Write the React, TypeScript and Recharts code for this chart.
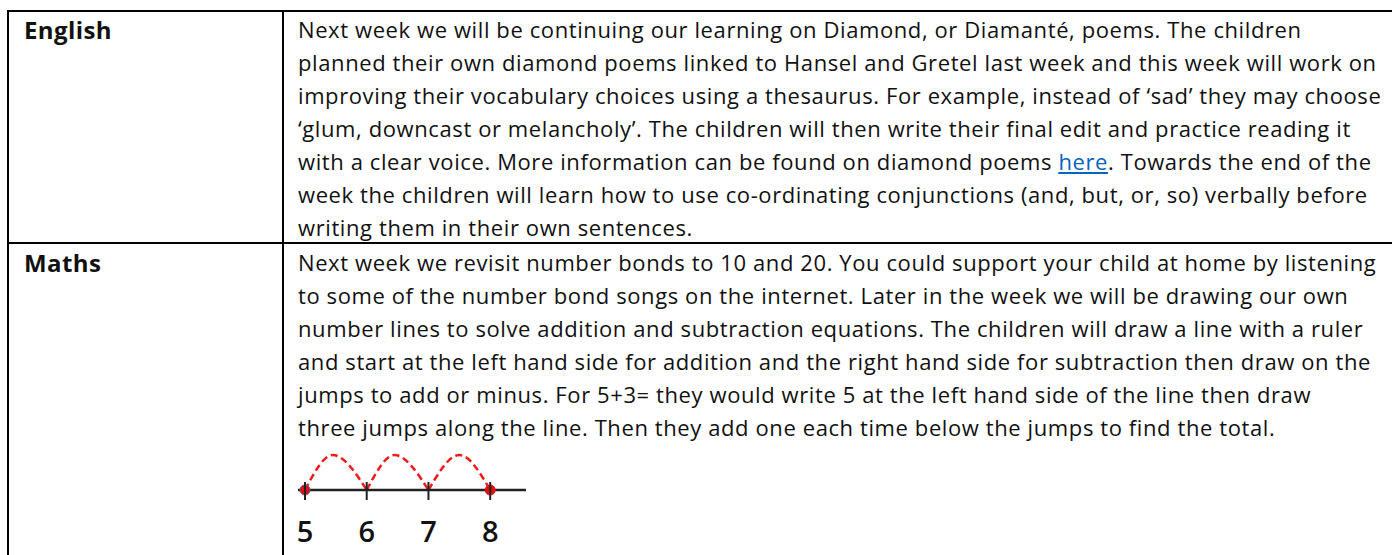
import React from 'react';
import { ComposedChart, Line, XAxis, YAxis, ReferenceDot } from 'recharts';

const rowLabels = ['English', 'Maths'];

const englishLines = [
  'Next week we will be continuing our learning on Diamond, or Diamanté, poems. The children',
  'planned their own diamond poems linked to Hansel and Gretel last week and this week will work on',
  'improving their vocabulary choices using a thesaurus. For example, instead of ‘sad’ they may choose',
  '‘glum, downcast or melancholy’. The children will then write their final edit and practice reading it',
  'with a clear voice. More information can be found on diamond poems |here|. Towards the end of the',
  'week the children will learn how to use co-ordinating conjunctions (and, but, or, so) verbally before',
  'writing them in their own sentences.',
];

const mathsLines = [
  'Next week we revisit number bonds to 10 and 20. You could support your child at home by listening',
  'to some of the number bond songs on the internet. Later in the week we will be drawing our own',
  'number lines to solve addition and subtraction equations. The children will draw a line with a ruler',
  'and start at the left hand side for addition and the right hand side for subtraction then draw on the',
  'jumps to add or minus. For 5+3= they would write 5 at the left hand side of the line then draw',
  'three jumps along the line. Then they add one each time below the jumps to find the total.',
];

const numberTicks = [5, 6, 7, 8];
const jump1 = [
  { x: 5, y: 0 },
  { x: 5.45, y: 1 },
  { x: 6, y: 0 },
];
const jump2 = [
  { x: 6, y: 0 },
  { x: 6.45, y: 1 },
  { x: 7, y: 0 },
];
const jump3 = [
  { x: 7, y: 0 },
  { x: 7.5, y: 1 },
  { x: 8, y: 0 },
];
const markedPoints = [5, 8];

const FONT = '"Open Sans", "Noto Sans", sans-serif';
const TEXT_SIZE = 22;
const LINE_H = 33;

function renderLine(text: string) {
  const parts = text.split('|');
  return parts.map((p, i) =>
    i % 2 === 1 ? (
      <span key={i} style={{ color: '#0563c1', textDecoration: 'underline' }}>
        {p}
      </span>
    ) : (
      <span key={i}>{p}</span>
    )
  );
}

const TickMark = (props: any) => {
  const { x, y, payload } = props;
  return (
    <g>
      <line x1={x} x2={x} y1={y - 8} y2={y + 10} stroke="#222" strokeWidth={2} />
      <text
        x={x}
        y={y + 52}
        textAnchor="middle"
        fontSize={29}
        fontWeight={600}
        fontFamily={FONT}
        fill="#111"
      >
        {payload.value}
      </text>
    </g>
  );
};

function NumberLine() {
  return (
    <ComposedChart
      width={228}
      height={110}
      margin={{ top: 5, right: 0, left: 0, bottom: 0 }}
    >
      <XAxis
        type="number"
        dataKey="x"
        domain={[4.887, 8.58]}
        ticks={numberTicks}
        tick={<TickMark />}
        tickLine={false}
        tickSize={0}
        tickMargin={0}
        axisLine={{ stroke: '#222', strokeWidth: 2.5 }}
        height={70}
        allowDataOverflow
        interval={0}
      />
      <YAxis type="number" domain={[0, 1]} hide />
      {[jump1, jump2, jump3].map((d, i) => (
        <Line
          key={i}
          data={d}
          dataKey="y"
          type="monotone"
          stroke="#ee1c1c"
          strokeWidth={2.5}
          strokeDasharray="7 4"
          dot={false}
          activeDot={false}
          isAnimationActive={false}
        />
      ))}
      {markedPoints.map((p, i) => (
        <ReferenceDot
          key={p}
          x={p}
          y={0}
          r={5}
          fill="#e01010"
          stroke={i === 0 ? '#6a4a9a' : '#e01010'}
          strokeWidth={1}
        />
      ))}
    </ComposedChart>
  );
}

export default function App() {
  const lineStyle = (top: number): React.CSSProperties => ({
    position: 'absolute',
    left: 298,
    top,
    height: LINE_H,
    lineHeight: `${LINE_H}px`,
    whiteSpace: 'nowrap',
    fontFamily: FONT,
    fontSize: TEXT_SIZE,
    letterSpacing: '0.6px',
    color: '#111',
  });
  const labelStyle = (top: number): React.CSSProperties => ({
    position: 'absolute',
    left: 24,
    top,
    lineHeight: `${LINE_H}px`,
    fontFamily: FONT,
    fontSize: 24,
    letterSpacing: '0.4px',
    fontWeight: 700,
    color: '#111',
  });
  return (
    <div
      style={{
        position: 'absolute',
        left: 0,
        top: 0,
        width: 1392,
        height: 555,
        overflow: 'hidden',
        background: '#fff',
      }}
    >
      <div style={{ position: 'absolute', left: 7, top: 10, width: 1385, height: 2, background: '#000' }} />
      <div style={{ position: 'absolute', left: 7, top: 10, width: 2, height: 545, background: '#000' }} />
      <div style={{ position: 'absolute', left: 282, top: 10, width: 2, height: 545, background: '#000' }} />
      <div style={{ position: 'absolute', left: 7, top: 242, width: 1385, height: 2, background: '#000' }} />

      <div style={labelStyle(13)}>{rowLabels[0]}</div>
      <div style={labelStyle(246)}>{rowLabels[1]}</div>

      {englishLines.map((t, i) => (
        <div key={'e' + i} style={lineStyle(13 + i * LINE_H)}>
          {renderLine(t)}
        </div>
      ))}
      {mathsLines.map((t, i) => (
        <div key={'m' + i} style={lineStyle(246 + i * LINE_H)}>
          {renderLine(t)}
        </div>
      ))}

      <div style={{ position: 'absolute', left: 298, top: 450 }}>
        <NumberLine />
      </div>
    </div>
  );
}
